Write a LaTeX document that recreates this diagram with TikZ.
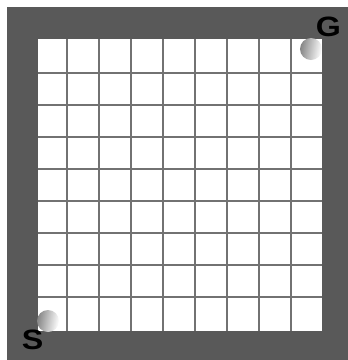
\documentclass[tikz,border=0pt]{standalone}
\usepackage{fontspec}
\setmainfont{Liberation Sans}
\newfontfamily\lblfont{Liberation Sans Bold}
\newcommand\lblstyle{\lblfont\fontsize{28pt}{30pt}\selectfont}
\definecolor{frameGray}{HTML}{595959}
\definecolor{lineGray}{HTML}{727272}
\definecolor{ballGray}{HTML}{858585}
\tikzset{
  gridline/.style={draw=lineGray,line width=2pt},
  ballshade/.style={left color=ballGray,right color=white,shading angle=80},
  lbl/.style={font=\lblstyle,inner sep=0pt,text=black,xscale=1.15}}
\begin{document}
\begin{tikzpicture}[x=1pt,y=-1pt]
\useasboundingbox (0,0) rectangle (348,360);
\fill[white] (0,0) rectangle (348,360);
\fill[frameGray] (7,7) rectangle (348,360);
\fill[white] (38,39) rectangle (322,331);
\foreach \k in {0,...,7}{
  \draw[gridline] ({67+32*\k},39) -- ({67+32*\k},331);
  \draw[gridline] (38,{73+32*\k}) -- (322,{73+32*\k});
}
\begin{scope}
\clip (37,37) rectangle (322,332);
\shade[ballshade] (311,49) circle (11);
\shade[ballshade] (48,321) circle (11);
\end{scope}
\node[lbl] (G) at (328.5,27) {G};
\node[lbl] (S) at (32.5,339.5) {S};
\end{tikzpicture}
\end{document}
